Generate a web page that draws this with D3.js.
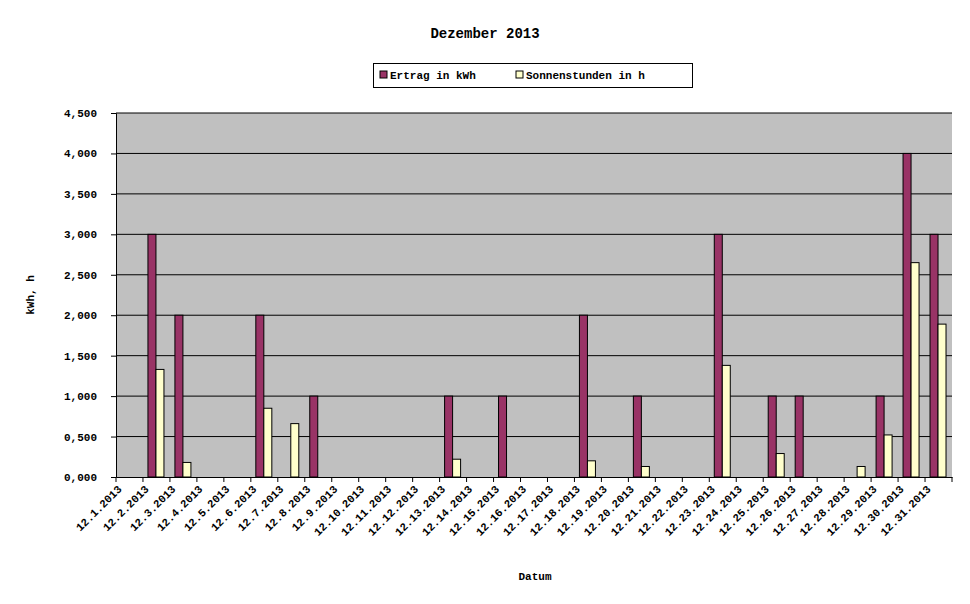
<!DOCTYPE html>
<html><head><meta charset="utf-8">
<script src="https://d3js.org/d3.v7.min.js"></script>
<style>body{margin:0;background:#fff}text{font-family:"Liberation Mono",monospace;font-weight:bold}</style>
</head><body><svg id="c" width="970" height="604"></svg>
<script>
// daily values
const days = d3.range(1, 32).map(d => "12." + d + ".2013")
const ertrag = [0,3,2,0,0,2,0,1,0,0,0,0,1,0,1,0,0,2,0,1,0,0,3,0,1,1,0,0,1,4,3]
const sonne = [0,1.33,0.18,0,0,0.85,0.66,0,0,0,0,0,0.22,0,0,0,0,0.2,0,0.13,0,0,1.38,0,0.29,0,0,0.13,0.52,2.65,1.89]
const yTicks = d3.range(0, 4.51, 0.5)

const svg = d3.select("#c")
const pLeft = 116, pRight = 952, pTop = 113, pBottom = 477

const x = d3.scaleBand().domain(days).range([pLeft, pRight])
const y = d3.scaleLinear().domain([0, 4.5]).range([pBottom, pTop])

svg.append("rect").attr("x", pLeft).attr("y", pTop).attr("width", pRight - pLeft).attr("height", pBottom - pTop)
  .attr("fill", "#c0c0c0")

svg.selectAll(".grid").data(yTicks.slice(1)).join("line")
  .attr("x1", pLeft).attr("x2", pRight).attr("y1", d => y(d)).attr("y2", d => y(d))
  .attr("stroke", "#000")

const fmt = d => d3.format(".3f")(d).replace(".", ",")
const yAxis = svg.append("g").attr("transform", `translate(${pLeft},0)`)
  .call(d3.axisLeft(y).tickValues(yTicks).tickFormat(fmt).tickSize(5).tickPadding(14))
yAxis.selectAll("text").attr("font-size", 11).attr("font-family", "Liberation Mono").attr("font-weight", "bold")

const xAxis = svg.append("g").attr("transform", `translate(0,${pBottom})`)
  .call(d3.axisBottom(x).tickSize(0).tickFormat(d => d))
xAxis.selectAll("text").attr("font-size", 11).attr("font-family", "Liberation Mono").attr("font-weight", "bold")
  .attr("text-anchor", "end").attr("transform", "translate(-12,8) rotate(-45)").attr("dy", "0.35em")
xAxis.selectAll(".bt").data(d3.range(32)).join("line")
  .attr("x1", i => pLeft + i * x.step()).attr("x2", i => pLeft + i * x.step())
  .attr("y1", 0).attr("y2", 5).attr("stroke", "#000")
svg.selectAll(".domain").attr("stroke", "#000")

const bw = 8
svg.selectAll(".e").data(days).join("rect")
  .attr("x", d => x(d) + x.bandwidth() / 2 - bw - 0.5)
  .attr("y", (d, i) => y(ertrag[i])).attr("width", bw).attr("height", (d, i) => pBottom - y(ertrag[i]))
  .attr("fill", "#993366").attr("stroke", "#000").attr("display", (d, i) => ertrag[i] ? null : "none")
svg.selectAll(".s").data(days).join("rect")
  .attr("x", d => x(d) + x.bandwidth() / 2 - 0.5)
  .attr("y", (d, i) => y(sonne[i])).attr("width", bw).attr("height", (d, i) => pBottom - y(sonne[i]))
  .attr("fill", "#ffffcc").attr("stroke", "#000").attr("display", (d, i) => sonne[i] ? null : "none")

svg.append("text").attr("x", 485).attr("y", 38).attr("text-anchor", "middle").attr("font-size", 14).text("Dezember 2013")
svg.append("text").attr("x", 535).attr("y", 580).attr("text-anchor", "middle").attr("font-size", 11).text("Datum")
svg.append("text").attr("transform", "translate(34,295) rotate(-90)").attr("text-anchor", "middle").attr("font-size", 11).text("kWh, h")

// legend
const lg = svg.append("g")
lg.append("rect").attr("x", 373.5).attr("y", 63.5).attr("width", 319).attr("height", 24).attr("fill", "#fff").attr("stroke", "#000")
const items = [["Ertrag in kWh", "#993366", 380], ["Sonnenstunden in h", "#ffffcc", 516]]
items.forEach(([t, c, px]) => {
  lg.append("rect").attr("x", px).attr("y", 71).attr("width", 7).attr("height", 7).attr("fill", c).attr("stroke", "#000")
  lg.append("text").attr("x", px + 10).attr("y", 79).attr("font-size", 11).text(t)
})
</script></body></html>
